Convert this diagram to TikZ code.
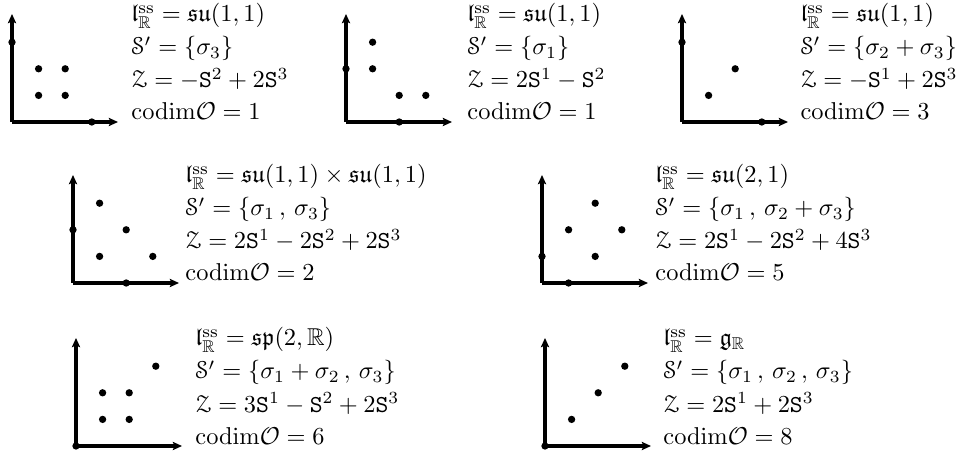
\documentclass[tikz,border=0pt]{standalone}
\usepackage{amsmath,amssymb}
\usepackage[mathscr]{eucal}
\usetikzlibrary{arrows.meta,calc}
\tikzset{
  axisline/.style={line width=1.3pt,-{Stealth[length=3.8pt,width=3.4pt,inset=0.8pt]}},
  latdot/.style={circle,fill=black,inner sep=0pt,minimum size=3pt},
  txt/.style={anchor=base west,inner sep=0pt}
}
\newcommand{\mypanel}[9]{%
  \coordinate (#1o) at (#2,#3);
  \coordinate (#1x) at ($(#1o)+(106,0)$);
  \coordinate (#1y) at ($(#1o)+(0,-108)$);
  \draw[axisline] (#1o) -- (#1x);
  \draw[axisline] (#1o) -- (#1y);
  \foreach \a/\b [count=\k] in {#5} {
    \node[latdot] (#1d\k) at ($(#1o)+(26.6*\a,-26.6*\b)$) {};
  }
  \node[txt] (#1t1) at (#4,#3-100) {$#6$};
  \node[txt] (#1t2) at (#4,#3-67) {$#7$};
  \node[txt] (#1t3) at (#4,#3-34) {$#8$};
  \node[txt] (#1t4) at (#4,#3-2) {$#9$};
}
\newcommand{\lss}{\mathfrak{l}^{\mathrm{ss}}_{\mathbb{R}}}
\newcommand{\Sp}{\mathscr{S}'}
\newcommand{\Zc}{\mathscr{Z}}
\newcommand{\St}{\mathtt{S}}
\newcommand{\cod}{\mathrm{codim}\mathcal{O}}
\begin{document}
\begin{tikzpicture}[x=0.41pt,y=-0.41pt]
\useasboundingbox (0,0) rectangle (961,456);
\mypanel{a}{12}{122}{131}{0/3,1/2,2/2,1/1,2/1,3/0}
  {\lss = \mathfrak{su}(1,1)}{\Sp = \{\sigma_3\}}{\Zc = -\St^2 + 2\St^3}{\cod = 1}
\mypanel{b}{346}{122}{467}{0/2,1/3,1/2,2/1,3/1,2/0}
  {\lss = \mathfrak{su}(1,1)}{\Sp = \{\sigma_1\}}{\Zc = 2\St^1 - \St^2}{\cod = 1}
\mypanel{c}{682}{122}{800}{0/3,1/1,2/2,3/0}
  {\lss = \mathfrak{su}(1,1)}{\Sp = \{\sigma_2 + \sigma_3\}}{\Zc = -\St^1 + 2\St^3}{\cod = 3}
\mypanel{d}{73}{283}{185}{0/2,1/3,2/2,1/1,3/1,2/0}
  {\lss = \mathfrak{su}(1,1)\times\mathfrak{su}(1,1)}{\Sp = \{\sigma_1\,,\,\sigma_3\}}{\Zc = 2\St^1 - 2\St^2 + 2\St^3}{\cod = 2}
\mypanel{e}{542}{283}{655}{0/1,1/0,1/2,2/1,2/3,3/2}
  {\lss = \mathfrak{su}(2,1)}{\Sp = \{\sigma_1\,,\,\sigma_2 + \sigma_3\}}{\Zc = 2\St^1 - 2\St^2 + 4\St^3}{\cod = 5}
\mypanel{f}{76}{446}{195}{0/0,1/2,2/2,1/1,2/1,3/3}
  {\lss = \mathfrak{sp}(2,\mathbb{R})}{\Sp = \{\sigma_1 + \sigma_2\,,\,\sigma_3\}}{\Zc = 3\St^1 - \St^2 + 2\St^3}{\cod = 6}
\mypanel{g}{545}{446}{663}{0/0,1/1,2/2,3/3}
  {\lss = \mathfrak{g}_{\mathbb{R}}}{\Sp = \{\sigma_1\,,\,\sigma_2\,,\,\sigma_3\}}{\Zc = 2\St^1 + 2\St^3}{\cod = 8}
\end{tikzpicture}
\end{document}
